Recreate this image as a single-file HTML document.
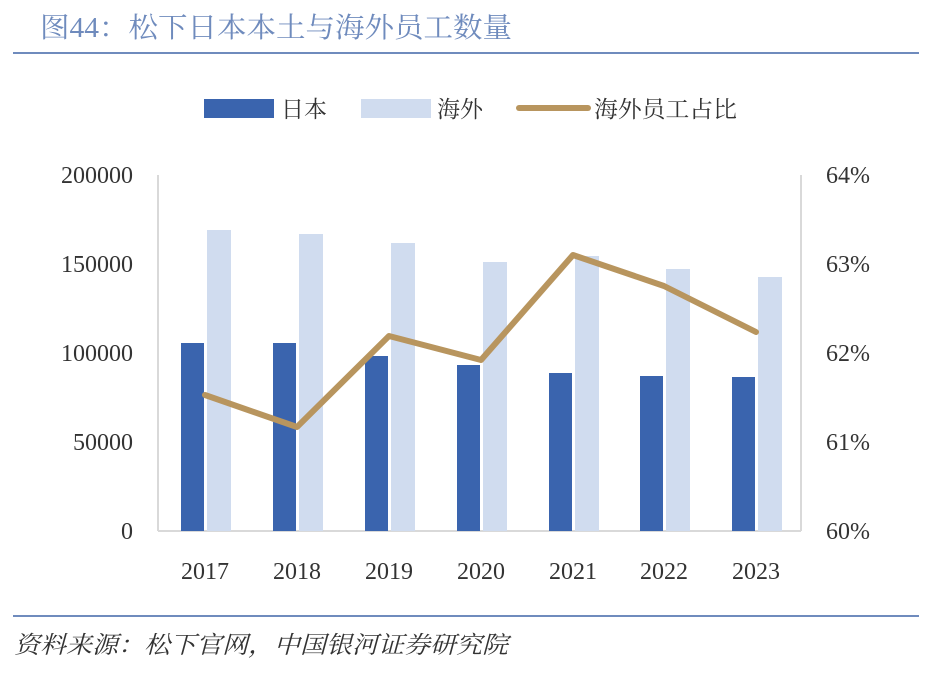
<!DOCTYPE html>
<html><head><meta charset="utf-8"><style>
body{margin:0;background:#fff;width:935px;height:679px;overflow:hidden}
svg{display:block}
</style></head><body>
<svg width="935" height="679" xmlns="http://www.w3.org/2000/svg" font-family="'Liberation Serif','Noto Serif CJK SC',serif">
<text x="40" y="37" font-size="28" fill="#6f8bbd" textLength="472" lengthAdjust="spacingAndGlyphs">图44：松下日本本土与海外员工数量</text>
<line x1="13" y1="53" x2="919" y2="53" stroke="#6f8bbd" stroke-width="2"/>
<rect x="204" y="99" width="70" height="19" fill="#3a64ae"/>
<text x="281" y="117" font-size="23" fill="#333">日本</text>
<rect x="361" y="99" width="70" height="19" fill="#d0dcef"/>
<text x="437" y="117" font-size="23" fill="#333">海外</text>
<line x1="519" y1="108" x2="588" y2="108" stroke="#b8955e" stroke-width="6" stroke-linecap="round"/>
<text x="594" y="117" font-size="23" fill="#333" textLength="143" lengthAdjust="spacingAndGlyphs">海外员工占比</text>
<line x1="158" y1="175" x2="158" y2="531" stroke="#d9d9d9" stroke-width="2"/>
<line x1="801" y1="175" x2="801" y2="531" stroke="#d9d9d9" stroke-width="2"/>
<line x1="158" y1="531" x2="801" y2="531" stroke="#d9d9d9" stroke-width="2"/>
<g font-size="24" fill="#333" text-anchor="end">
<text x="133" y="183">200000</text><text x="133" y="272">150000</text><text x="133" y="361">100000</text><text x="133" y="450">50000</text><text x="133" y="539">0</text>
</g>
<g font-size="24" fill="#333">
<text x="826" y="183">64%</text><text x="826" y="272">63%</text><text x="826" y="361">62%</text><text x="826" y="450">61%</text><text x="826" y="539">60%</text>
</g>
<g font-size="24" fill="#333" text-anchor="middle">
<text x="205" y="579">2017</text><text x="297" y="579">2018</text><text x="389" y="579">2019</text><text x="481" y="579">2020</text><text x="573" y="579">2021</text><text x="664" y="579">2022</text><text x="756" y="579">2023</text>
</g>
<g fill="#3a64ae">
<rect x="181" y="343" width="23" height="188"/>
<rect x="273" y="343" width="23" height="188"/>
<rect x="365" y="356" width="23" height="175"/>
<rect x="457" y="365" width="23" height="166"/>
<rect x="549" y="373" width="23" height="158"/>
<rect x="640" y="376" width="23" height="155"/>
<rect x="732" y="377" width="23" height="154"/>
</g>
<g fill="#d0dcef">
<rect x="207" y="230" width="24" height="301"/>
<rect x="299" y="234" width="24" height="297"/>
<rect x="391" y="243" width="24" height="288"/>
<rect x="483" y="262" width="24" height="269"/>
<rect x="575" y="256" width="24" height="275"/>
<rect x="666" y="269" width="24" height="262"/>
<rect x="758" y="277" width="24" height="254"/>
</g>
<polyline points="205,395 297,427 389,336 481,360 573,255 664,286 756,332" fill="none" stroke="#b8955e" stroke-width="6" stroke-linejoin="round" stroke-linecap="round"/>
<line x1="13" y1="616" x2="919" y2="616" stroke="#6f8bbd" stroke-width="2"/>
<text x="14" y="653" font-size="24" font-style="italic" fill="#333" textLength="494" lengthAdjust="spacingAndGlyphs">资料来源：松下官网，中国银河证券研究院</text>
</svg>
</body></html>
